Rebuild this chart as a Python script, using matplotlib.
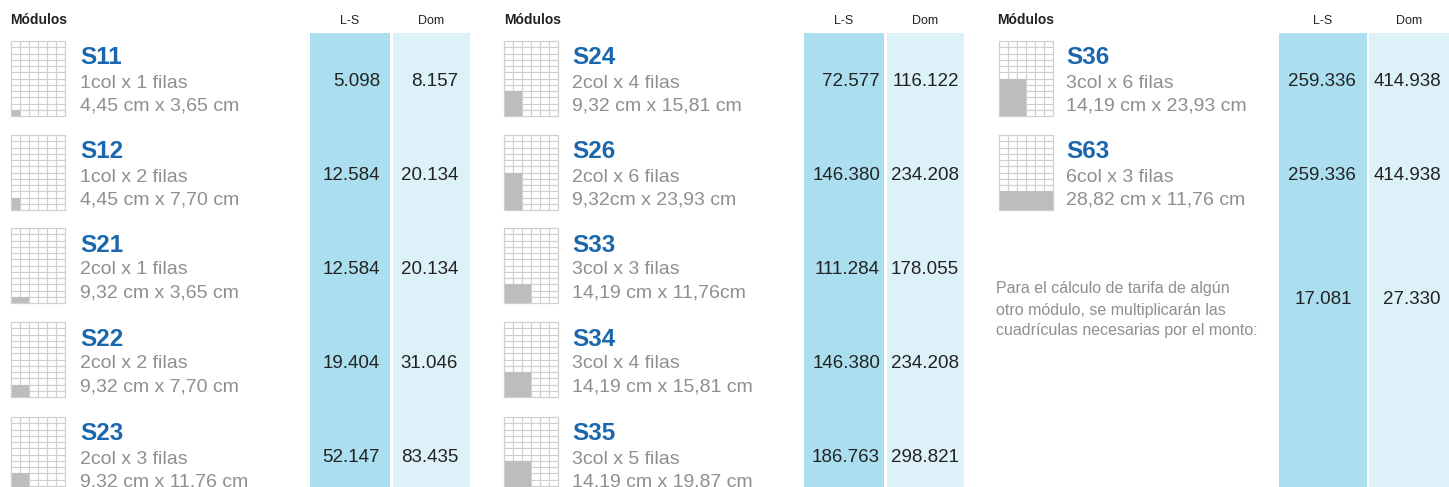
import matplotlib.pyplot as plt
from matplotlib.patches import Rectangle

# module data, one entry per module (3 panels)
codes = ['S11', 'S12', 'S21', 'S22', 'S23',
         'S24', 'S26', 'S33', 'S34', 'S35',
         'S36', 'S63']
cols = [1, 1, 2, 2, 2, 2, 2, 3, 3, 3, 3, 6]
rows = [1, 2, 1, 2, 3, 4, 6, 3, 4, 5, 6, 3]
sizes = ['4,45 cm x 3,65 cm', '4,45 cm x 7,70 cm', '9,32 cm x 3,65 cm',
         '9,32 cm x 7,70 cm', '9,32 cm x 11,76 cm',
         '9,32 cm x 15,81 cm', '9,32cm x 23,93 cm', '14,19 cm x 11,76cm',
         '14,19 cm x 15,81 cm', '14,19 cm x 19,87 cm',
         '14,19 cm x 23,93 cm', '28,82 cm x 11,76 cm']
price_ls = ['5.098', '12.584', '12.584', '19.404', '52.147',
            '72.577', '146.380', '111.284', '146.380', '186.763',
            '259.336', '259.336']
price_dom = ['8.157', '20.134', '20.134', '31.046', '83.435',
             '116.122', '234.208', '178.055', '234.208', '298.821',
             '414.938', '414.938']
panel_of = [0, 0, 0, 0, 0, 1, 1, 1, 1, 1, 2, 2]
row_of = [0, 1, 2, 3, 4, 0, 1, 2, 3, 4, 0, 1]

cell_ls = '17.081'
cell_dom = '27.330'
note = ('Para el cálculo de tarifa de algún\n'
        'otro módulo, se multiplicarán las\n'
        'cuadrículas necesarias por el monto:')

GRID_COLS, GRID_ROWS = 6, 12

# layout (pixels)
panel_x = [10, 504, 997]
icon_x = [11, 504, 999]
text_x = [80, 572, 1066]
ls_box = [(310, 390), (804, 884), (1279, 1367)]
dom_box = [(393, 470), (887, 964), (1369, 1449)]
ls_right = [380, 880, 1356]
dom_right = [458, 959, 1441]
row_top = [41, 135, 228, 322, 417]

BLUE = '#1a67ad'
GRAY = '#8f8f8f'
DARK = '#222222'
FONT = 'Liberation Sans'

fig = plt.figure(figsize=(14.49, 4.87), dpi=100)
ax = fig.add_axes([0, 0, 1, 1])
ax.set_xlim(0, 1449)
ax.set_ylim(487, 0)
ax.axis('off')

for p in range(3):
    x0, x1 = ls_box[p]
    ax.add_patch(Rectangle((x0, 33), x1 - x0, 460, color='#abdfef', lw=0))
    x0, x1 = dom_box[p]
    ax.add_patch(Rectangle((x0, 33), x1 - x0, 460, color='#dcf1f8', lw=0))
    ax.text(panel_x[p], 20, 'Módulos', fontsize=10, fontweight='bold',
            color=DARK, va='center', family=FONT)
    ax.text(sum(ls_box[p]) / 2, 21, 'L-S', fontsize=9, color=DARK,
            ha='center', va='center', family=FONT)
    ax.text(sum(dom_box[p]) / 2, 21, 'Dom', fontsize=9, color=DARK,
            ha='center', va='center', family=FONT)


def draw_icon(x, y, nc, nr, w=54, h=75):
    cw, ch = w / GRID_COLS, h / GRID_ROWS
    for i in range(GRID_COLS):
        for j in range(GRID_ROWS):
            filled = i < nc and j >= GRID_ROWS - nr
            ax.add_patch(Rectangle((x + i * cw, y + j * ch), cw, ch,
                                   facecolor='#bdbdbd' if filled else 'white',
                                   edgecolor='#bdbdbd' if filled else '#cfcfcf',
                                   lw=0.8))
    ax.add_patch(Rectangle((x, y), w, h, fill=False, edgecolor='#d0d0d0', lw=0.8))


for k, code in enumerate(codes):
    p, r = panel_of[k], row_of[k]
    top = row_top[r]
    draw_icon(icon_x[p], top, cols[k], rows[k])
    tx = text_x[p]
    ax.text(tx, top + 17, code, fontsize=17.5, fontweight='bold', color=BLUE,
            va='center', family=FONT)
    ax.text(tx, top + 42, f'{cols[k]}col x {rows[k]} filas', fontsize=14,
            color=GRAY, va='center', family=FONT)
    ax.text(tx, top + 65, sizes[k], fontsize=14, color=GRAY, va='center',
            family=FONT)
    ax.text(ls_right[p], top + 41, price_ls[k], fontsize=13.5, color=DARK,
            ha='right', va='center', family=FONT)
    ax.text(dom_right[p], top + 41, price_dom[k], fontsize=13.5, color=DARK,
            ha='right', va='center', family=FONT)

# note about per-cell price
ax.text(996, 310, note, fontsize=11.5, color=GRAY, va='center',
        linespacing=1.5, family=FONT)
ax.text(sum(ls_box[2]) / 2, 300, cell_ls, fontsize=13.5, color=DARK,
        ha='center', va='center', family=FONT)
ax.text(dom_right[2], 300, cell_dom, fontsize=13.5, color=DARK,
        ha='right', va='center', family=FONT)

fig.savefig('out.png', dpi=100)
